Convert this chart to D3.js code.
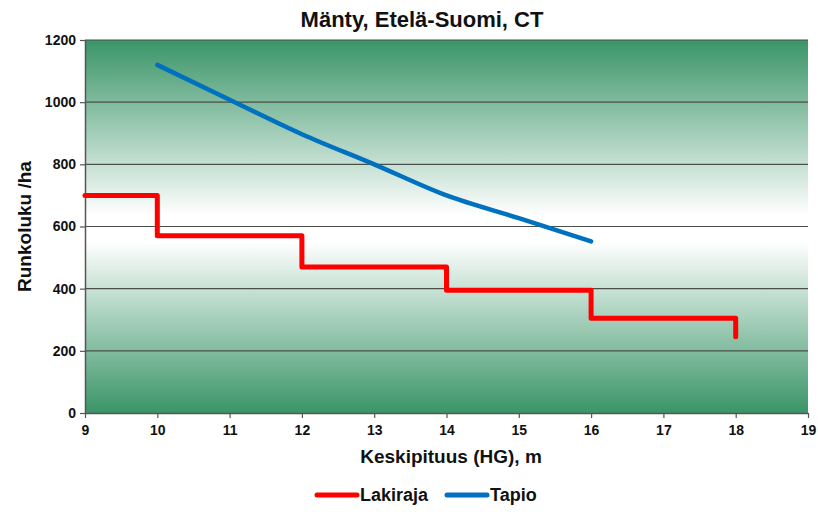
<!DOCTYPE html>
<html>
<head>
<meta charset="utf-8">
<script src="https://cdn.jsdelivr.net/npm/d3@7"></script>
<style>
body { margin: 0; background: #fff; }
text { font-family: "Liberation Sans", Arial, sans-serif; font-weight: bold; fill: #111; }
</style>
</head>
<body>
<svg id="chart" width="818" height="512"></svg>
<script>
// data
var lakirajaX = [9, 10, 10, 12, 12, 14, 14, 16, 16, 18, 18];
var lakirajaY = [700, 700, 570, 570, 470, 470, 395, 395, 305, 305, 245];
var tapioX = [10, 11, 12, 13, 14, 15, 16];
var tapioY = [1120, 1008, 897, 800, 700, 627, 552];
var xTicks = [9, 10, 11, 12, 13, 14, 15, 16, 17, 18, 19];
var yTicks = [0, 200, 400, 600, 800, 1000, 1200];
var seriesNames = ["Lakiraja", "Tapio"];
var seriesColors = ["#ff0000", "#0070c0"];

var svg = d3.select("#chart");
var margin = {top: 40, right: 10, bottom: 99, left: 85};
var innerWidth = +svg.attr("width") - margin.left - margin.right;
var innerHeight = +svg.attr("height") - margin.top - margin.bottom;

var x = d3.scaleLinear().domain([9, 19]).range([0, innerWidth]);
var y = d3.scaleLinear().domain([0, 1200]).range([innerHeight, 0]);

var defs = svg.append("defs");
var grad = defs.append("linearGradient")
    .attr("id", "bg").attr("x1", 0).attr("y1", 0).attr("x2", 0).attr("y2", 1);
grad.append("stop").attr("offset", "0%").attr("stop-color", "#3a9568");
grad.append("stop").attr("offset", "47%").attr("stop-color", "#ffffff");
grad.append("stop").attr("offset", "54%").attr("stop-color", "#ffffff");
grad.append("stop").attr("offset", "100%").attr("stop-color", "#3a9568");

var g = svg.append("g")
    .attr("transform", "translate(" + margin.left + "," + margin.top + ")");

g.append("rect")
    .attr("width", innerWidth)
    .attr("height", innerHeight)
    .style("fill", "url(#bg)");

// grid lines
g.append("g")
    .selectAll("line")
    .data(yTicks.filter(d => d > 0))
    .enter().append("line")
    .attr("x1", 0).attr("x2", innerWidth)
    .attr("y1", d => y(d)).attr("y2", d => y(d))
    .style("stroke", "#4a4f4a")
    .style("stroke-width", 1.2);

// axes
var xAxis = g.append("g")
    .attr("font-size", 14)
    .attr("transform", "translate(0," + innerHeight + ")")
    .call(d3.axisBottom(x).tickValues(xTicks).tickFormat(d3.format("d")).tickSize(5).tickSizeOuter(0));
var yAxis = g.append("g")
    .attr("font-size", 14)
    .call(d3.axisLeft(y).tickValues(yTicks).tickFormat(d3.format("d")).tickSize(5).tickSizeOuter(0));

[xAxis, yAxis].forEach(function(a) {
    a.attr("font-family", "'Liberation Sans', Arial, sans-serif").attr("font-size", 14);
    a.select(".domain").style("stroke", "#555").style("stroke-width", 1.5);
    a.selectAll(".tick line").style("stroke", "#555").style("stroke-width", 1.2);
    a.selectAll(".tick text")
        .style("font-weight", "bold")
        .style("fill", "#111");
});
xAxis.selectAll(".tick text").attr("dy", "1.0em");
yAxis.selectAll(".tick text").attr("x", -9);

var line = d3.line()
    .x(d => x(d[0]))
    .y(d => y(d[1]));

var lakData = lakirajaX.map((v, i) => [v, lakirajaY[i]]);
var tapData = tapioX.map((v, i) => [v, tapioY[i]]);

g.append("path")
    .datum(lakData)
    .attr("d", line)
    .style("fill", "none")
    .style("stroke", seriesColors[0])
    .style("stroke-width", 5)
    .style("stroke-linejoin", "round")
    .style("stroke-linecap", "round");

g.append("path")
    .datum(tapData)
    .attr("d", line.curve(d3.curveMonotoneX))
    .style("fill", "none")
    .style("stroke", seriesColors[1])
    .style("stroke-width", 4.5)
    .style("stroke-linecap", "round");

// titles
svg.append("text")
    .attr("x", 422).attr("y", 27)
    .attr("text-anchor", "middle")
    .style("font-size", "22px")
    .text("Mänty, Etelä-Suomi, CT");

svg.append("text")
    .attr("x", 451).attr("y", 463)
    .attr("text-anchor", "middle")
    .style("font-size", "19px")
    .text("Keskipituus (HG), m");

svg.append("text")
    .attr("transform", "translate(31," + (margin.top + innerHeight / 2) + ") rotate(-90)")
    .attr("text-anchor", "middle")
    .style("font-size", "19px")
    .text("Runkoluku /ha");

// legend
var legendX = [317, 447];
var legend = svg.append("g").selectAll("g")
    .data(seriesNames)
    .enter().append("g")
    .attr("transform", (d, i) => "translate(" + legendX[i] + ",495)");
legend.append("line")
    .attr("x1", 0).attr("x2", 40)
    .style("stroke", (d, i) => seriesColors[i])
    .style("stroke-width", 5)
    .style("stroke-linecap", "round");
legend.append("text")
    .attr("x", 43).attr("dy", "0.35em")
    .style("font-size", "18px")
    .text(d => d);
</script>
</body>
</html>
